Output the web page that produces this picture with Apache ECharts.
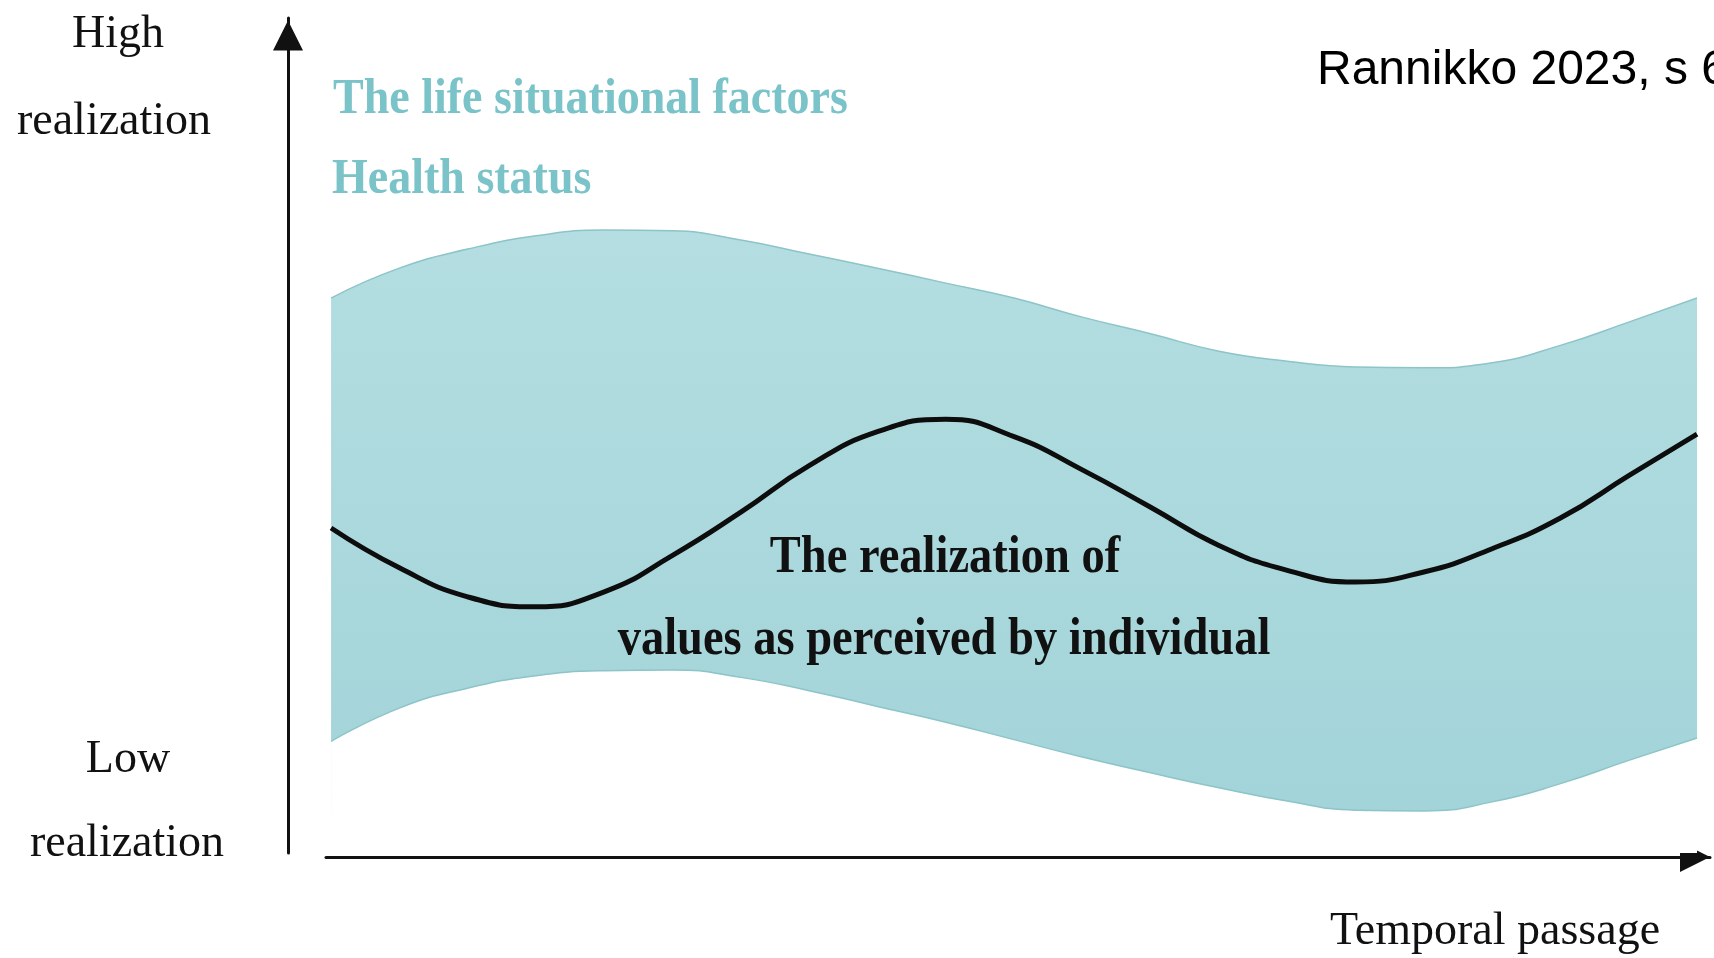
<!DOCTYPE html>
<html>
<head>
<meta charset="utf-8">
<script src="https://cdn.jsdelivr.net/npm/echarts@6/dist/echarts.min.js"></script>
<style>
  html, body { margin: 0; padding: 0; background: #ffffff; }
  #chart { width: 1714px; height: 958px; }
</style>
</head>
<body>
<div id="chart"></div>
<script>
// time runs 0..100 across the band, realization 0..100 from bottom to top of the y axis
const time        = [0, 5, 10, 15, 20, 25, 30, 35, 40, 45, 50, 55, 60, 65, 70, 75, 80, 85, 90, 95, 100];
const upperBound  = [66.5, 70.1, 72.4, 74.0, 74.7, 74.6, 73.5, 71.8, 70.1, 68.3, 66.5, 64.2, 62.2, 60.1, 58.9, 58.2, 58.1, 58.7, 60.8, 63.6, 66.5];
const lowerBound  = [13.1, 17.1, 19.5, 21.0, 21.6, 21.7, 20.8, 19.2, 17.3, 15.4, 13.3, 11.2, 9.3, 7.5, 5.9, 4.8, 4.7, 5.8, 8.0, 10.8, 13.5];
const realization = [38.8, 34.0, 30.5, 29.3, 31.1, 35.5, 40.7, 46.3, 50.4, 51.9, 49.8, 45.8, 41.3, 36.7, 33.7, 32.3, 33.5, 36.3, 40.0, 45.1, 50.1];

const yLabelsHigh = ['High', 'realization'];
const yLabelsLow  = ['Low', 'realization'];
const xLabel      = 'Temporal passage';
const factorLines = ['The life situational factors', 'Health status'];
const centerLines = ['The realization of', 'values as perceived by individual'];
const sourceNote  = 'Rannikko 2023, s 6';

const serif = '"Liberation Serif", "Times New Roman", serif';
const triangle = 'path://M0,0L1,2L-1,2Z';

const chart = echarts.init(document.getElementById('chart'));

function txt(text, x, y, opts) {
    return {
        type: 'text',
        x: x,
        y: y,
        scaleX: opts.scaleX || 1,
        z: 10,
        style: {
            text: text,
            textAlign: opts.align || 'center',
            textVerticalAlign: 'middle',
            font: opts.font,
            fill: opts.color || '#111'
        }
    };
}

chart.setOption({
    animation: false,
    backgroundColor: '#ffffff',
    grid: { left: 326, right: 4, top: 18, bottom: 105 },
    xAxis: {
        type: 'value',
        min: -0.37,
        max: 100.95,
        offset: 4,
        axisLine: {
            show: true,
            onZero: false,
            lineStyle: { color: '#111', width: 3 },
            symbol: ['none', triangle],
            symbolSize: [36, 30],
            symbolOffset: [0, -15]
        },
        axisTick: { show: false },
        axisLabel: { show: false },
        splitLine: { show: false }
    },
    yAxis: {
        type: 'value',
        min: -0.36,
        max: 100.24,
        offset: 38,
        axisLine: {
            show: true,
            onZero: false,
            lineStyle: { color: '#111', width: 3 },
            symbol: ['none', triangle],
            symbolSize: [30, 35],
            symbolOffset: [0, -17.5]
        },
        axisTick: { show: false },
        axisLabel: { show: false },
        splitLine: { show: false }
    },
    series: [
        {
            // teal band: filled from the upper boundary down...
            name: 'upper',
            type: 'line',
            smooth: 0.5,
            symbol: 'none',
            clip: false,
            data: time.map((t, i) => [t, upperBound[i]]),
            lineStyle: { color: '#8cc4c8', width: 1.5 },
            areaStyle: {
                opacity: 1,
                origin: 'start',
                color: {
                    type: 'linear', x: 0, y: 0, x2: 0, y2: 1,
                    colorStops: [
                        { offset: 0, color: '#b4dee1' },
                        { offset: 1, color: '#a1d3d8' }
                    ]
                }
            }
        },
        {
            // ...and blanked out again below the lower boundary
            name: 'lower',
            type: 'line',
            smooth: 0.5,
            symbol: 'none',
            clip: false,
            data: time.map((t, i) => [t, lowerBound[i]]),
            lineStyle: { color: '#8cc4c8', width: 1.5 },
            areaStyle: { opacity: 1, origin: 'start', color: '#ffffff' }
        },
        {
            name: 'realization',
            type: 'line',
            smooth: 0.5,
            symbol: 'none',
            clip: false,
            data: time.map((t, i) => [t, realization[i]]),
            lineStyle: { color: '#0d0d0d', width: 5 }
        }
    ],
    graphic: [
        txt(yLabelsHigh[0], 118, 35, { font: '46px ' + serif }),
        txt(yLabelsHigh[1], 114, 122, { font: '46px ' + serif }),
        txt(yLabelsLow[0], 128, 760, { font: '46px ' + serif }),
        txt(yLabelsLow[1], 127, 844, { font: '46px ' + serif }),
        txt(xLabel, 1495, 932, { font: '46px ' + serif }),
        txt(factorLines[0], 333, 100, { font: 'bold 50px ' + serif, align: 'left', scaleX: 0.92, color: '#7ac3c8' }),
        txt(factorLines[1], 332, 180, { font: 'bold 50px ' + serif, align: 'left', scaleX: 0.92, color: '#7ac3c8' }),
        txt(centerLines[0], 945, 559, { font: 'bold 52px ' + serif, scaleX: 0.894 }),
        txt(centerLines[1], 944, 641, { font: 'bold 52px ' + serif, scaleX: 0.894 }),
        txt(sourceNote, 1317, 71, { font: '48px "Liberation Sans", Arial, sans-serif', align: 'left', color: '#000' })
    ]
});
</script>
</body>
</html>
